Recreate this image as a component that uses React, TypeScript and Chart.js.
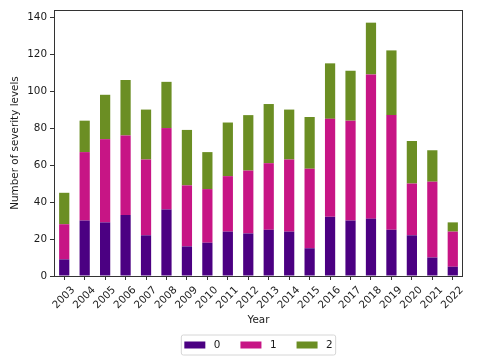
import React, { useEffect, useRef } from "react";
import { Chart, registerables } from "chart.js";
Chart.register(...registerables);

const years = ["2003","2004","2005","2006","2007","2008","2009","2010","2011","2012","2013","2014","2015","2016","2017","2018","2019","2020","2021","2022"];
const level0 = [9,30,29,33,22,36,16,18,24,23,25,24,15,32,30,31,25,22,10,5];
const level1 = [19,37,45,43,41,44,33,29,30,34,36,39,43,53,54,78,62,28,41,19];
const level2 = [17,17,24,30,27,25,30,20,29,30,32,27,28,30,27,28,35,23,17,5];
const seriesLabels = ["0","1","2"];
const seriesColors = ["#4b0082","#c71585","#6b8e23"];
const yTickValues = [0,20,40,60,80,100,120,140];
const yMax = 143.85;
const xTitle = "Year";
const yTitle = "Number of severity levels";

const FONT = "'DejaVu Sans', sans-serif";
const FS = 10.4;
const TXT = "#1a1a1a";

const framePlugin = {
  id: "framePlugin",
  afterDraw(chart: any) {
    const { ctx, chartArea } = chart;
    ctx.save();
    ctx.strokeStyle = "#333";
    ctx.lineWidth = 1;
    ctx.strokeRect(Math.round(chartArea.left) + 0.5, Math.round(chartArea.top) + 0.5,
      Math.round(chartArea.right - chartArea.left) - 1, Math.round(chartArea.bottom - chartArea.top));
    ctx.restore();
  },
};

const legendPlugin = {
  id: "mplLegend",
  afterDraw(chart: any) {
    const { ctx, chartArea } = chart;
    const ds = chart.data.datasets;
    ctx.save();
    ctx.font = `${FS}px ${FONT}`;
    const handleW = 21, handleH = 7, textGap = 8.5, itemGap = 20, pad = 3;
    const widths = ds.map((d: any) => handleW + textGap + ctx.measureText(d.label).width);
    const content = widths.reduce((a: number, b: number) => a + b, 0) + itemGap * (ds.length - 1);
    const frameW = content + pad * 2;
    const cx = (chartArea.left + chartArea.right) / 2;
    const fx = cx - frameW / 2;
    const fy = 335, fh = 20;
    const cy = fy + fh / 2;
    ctx.beginPath();
    const r = 2;
    ctx.moveTo(fx + r, fy);
    ctx.arcTo(fx + frameW, fy, fx + frameW, fy + fh, r);
    ctx.arcTo(fx + frameW, fy + fh, fx, fy + fh, r);
    ctx.arcTo(fx, fy + fh, fx, fy, r);
    ctx.arcTo(fx, fy, fx + frameW, fy, r);
    ctx.closePath();
    ctx.fillStyle = "rgba(255,255,255,0.8)";
    ctx.fill();
    ctx.strokeStyle = "#d6d6d6";
    ctx.lineWidth = 1;
    ctx.stroke();
    let x = fx + pad;
    ds.forEach((d: any, i: number) => {
      ctx.fillStyle = d.backgroundColor;
      ctx.fillRect(x, cy - handleH / 2, handleW, handleH);
      ctx.fillStyle = TXT;
      ctx.textBaseline = "middle";
      ctx.textAlign = "left";
      ctx.fillText(d.label, x + handleW + textGap, cy);
      x += widths[i] + itemGap;
    });
    ctx.restore();
  },
};

export default function App() {
  const ref = useRef<HTMLCanvasElement | null>(null);
  useEffect(() => {
    if (!ref.current) return;
    const datasetsData = [level0, level1, level2];
    const chart = new Chart(ref.current, {
      type: "bar",
      data: {
        labels: years,
        datasets: datasetsData.map((d, i) => ({
          label: seriesLabels[i],
          data: d,
          backgroundColor: seriesColors[i],
          borderWidth: 0,
          categoryPercentage: 1,
          barPercentage: 0.5,
        })),
      },
      options: {
        responsive: false,
        animation: false,
        layout: { padding: { left: 0, top: 10, right: 17, bottom: 33 } },
        plugins: { legend: { display: false }, tooltip: { enabled: false } },
        scales: {
          x: {
            stacked: true,
            offset: true,
            grid: { display: true, drawOnChartArea: false, drawTicks: true, tickLength: 4, color: "#333", offset: false },
            border: { display: false },
            ticks: { color: TXT, font: { family: FONT, size: FS }, minRotation: 45, maxRotation: 45, padding: 4, autoSkip: false, labelOffset: 9 },
            title: { display: true, text: xTitle, color: TXT, font: { family: FONT, size: FS }, padding: { top: 0, bottom: 3 } },
            afterFit: (s: any) => { s.height = 54; },
          },
          y: {
            stacked: true,
            min: 0,
            max: yMax,
            grid: { display: true, drawOnChartArea: false, drawTicks: true, tickLength: 4, color: "#333" },
            border: { display: false },
            ticks: { color: TXT, font: { family: FONT, size: FS }, padding: 3 },
            afterBuildTicks: (s: any) => { s.ticks = yTickValues.map((v) => ({ value: v })); },
            title: { display: true, text: yTitle, color: TXT, font: { family: FONT, size: FS }, padding: { top: 9, bottom: 0 } },
            afterFit: (s: any) => { s.width = 54; },
          },
        },
      },
      plugins: [framePlugin, legendPlugin],
    });
    return () => chart.destroy();
  }, []);
  return (
    <div style={{ position: "fixed", left: 0, top: 0, width: 480, height: 363, background: "#fff" }}>
      <canvas ref={ref} width={480} height={363} />
    </div>
  );
}
